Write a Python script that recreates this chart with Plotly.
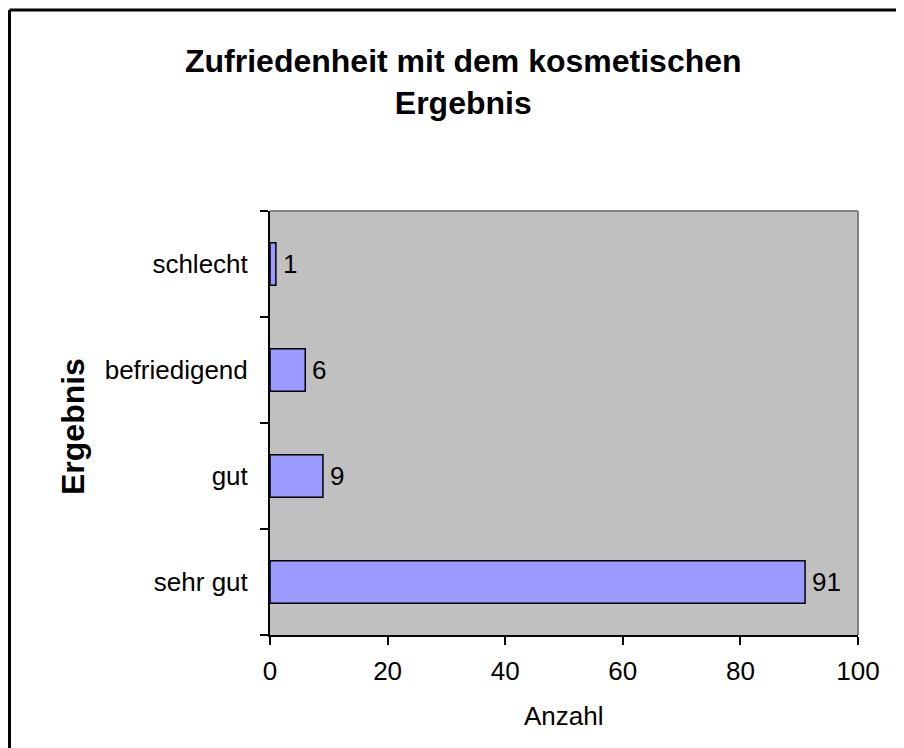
import plotly.graph_objects as go

categories = ["sehr gut", "gut", "befriedigend", "schlecht"]
values = [91, 9, 6, 1]
x_ticks = [0, 20, 40, 60, 80, 100]
title_text = "Zufriedenheit mit dem kosmetischen<br>Ergebnis"
x_title = "Anzahl"
y_title = "Ergebnis"

FONT = "Liberation Sans, Arial, sans-serif"
W, H = 904, 748
# figure coordinates (page is offset by the 8px body margin)
L, R, T, B = 262, 850, 203, 627
pw, ph = R - L, B - T

def px(x):
    return (x - L) / pw

def py(y):
    return (B - y) / ph

fig = go.Figure()
fig.add_trace(go.Bar(
    y=categories, x=values, orientation="h",
    marker=dict(color="#9999FF", line=dict(color="black", width=1.5)),
    hoverinfo="x+y",
))

label_annotations = [
    dict(x=v, y=c, xref="x", yref="y", text=str(v), xanchor="left", yanchor="middle",
         xshift=5, showarrow=False, font=dict(family=FONT, size=26, color="black"))
    for c, v in zip(categories, values)
]

fig.update_layout(
    width=W, height=H,
    margin=dict(l=L, r=W - R, t=T, b=H - B, pad=0),
    paper_bgcolor="white", plot_bgcolor="#C0C0C0",
    font=dict(family=FONT, size=26, color="black"),
    bargap=0.6, showlegend=False,
    xaxis=dict(range=[0, 100], tickvals=x_ticks, showgrid=False, zeroline=False,
               showline=True, linecolor="black", linewidth=2,
               ticks="outside", ticklen=8, tickwidth=2, tickcolor="black",
               tickfont=dict(size=26), ticklabelstandoff=4),
    yaxis=dict(categoryorder="array", categoryarray=categories,
               showgrid=False, zeroline=False, tickson="boundaries",
               showline=True, linecolor="black", linewidth=2,
               ticks="outside", ticklen=8, tickwidth=2, tickcolor="black",
               tickfont=dict(size=26), ticklabelstandoff=15),
    shapes=[
        dict(type="line", xref="paper", yref="paper", x0=0, x1=1, y0=1, y1=1,
             line=dict(color="#808080", width=2)),
        dict(type="line", xref="paper", yref="paper", x0=1, x1=1, y0=0, y1=1,
             line=dict(color="#808080", width=2)),
        dict(type="line", xref="paper", yref="paper", x0=px(1.5), x1=px(960), y0=py(2), y1=py(2),
             line=dict(color="black", width=3)),
        dict(type="line", xref="paper", yref="paper", x0=px(1.5), x1=px(1.5), y0=py(2), y1=py(800),
             line=dict(color="black", width=3)),
    ],
    annotations=label_annotations + [
        dict(text="<b>" + title_text.replace("<br>", "</b><br><b>") + "</b>",
             xref="paper", yref="paper", x=px(455.5), y=py(74),
             xanchor="center", yanchor="middle", showarrow=False,
             font=dict(size=32, family=FONT, color="black")),
        dict(text="<b>" + y_title + "</b>", textangle=-90,
             xref="paper", yref="paper", x=px(65), y=py(419),
             xanchor="center", yanchor="middle", showarrow=False,
             font=dict(size=32, family=FONT, color="black")),
        dict(text=x_title, xref="paper", yref="paper", x=px(556), y=py(708),
             xanchor="center", yanchor="middle", showarrow=False,
             font=dict(size=26, family=FONT, color="black")),
    ],
)

fig.write_html("out.html")
